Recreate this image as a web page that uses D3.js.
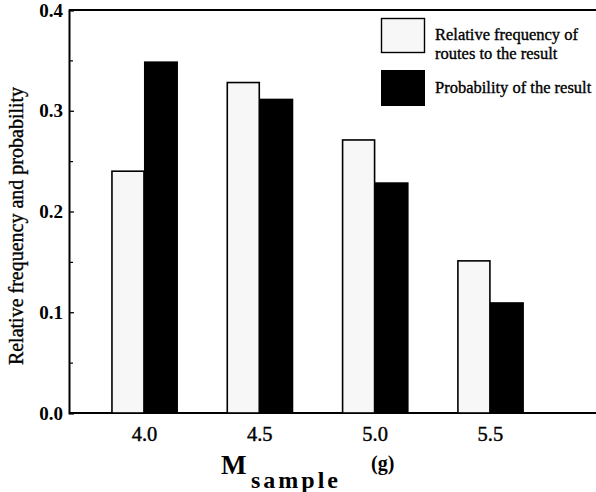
<!DOCTYPE html>
<html>
<head>
<meta charset="utf-8">
<script src="https://cdn.jsdelivr.net/npm/d3@7"></script>
<style>
  html, body { margin: 0; padding: 0; background: #fff; }
  svg { display: block; }
  text { font-family: "Liberation Serif", "Times New Roman", serif; fill: #000; }
</style>
</head>
<body>
<svg id="chart" width="596" height="492"></svg>
<script>
// Sample masses (g) and the two compared quantities
const masses = [4.0, 4.5, 5.0, 5.5];
const relFreq = [0.240, 0.328, 0.271, 0.151];
const probability = [0.349, 0.312, 0.229, 0.110];
const yMajorTicks = [0.0, 0.1, 0.2, 0.3, 0.4];
const yMinorTicks = [0.05, 0.15, 0.25, 0.35];
const seriesNames = ["Relative frequency of\nroutes to the result", "Probability of the result"];

const svg = d3.select("#chart");
const plotLeft = 69, plotRight = 596, plotTop = 10, plotBottom = 413;

const x = d3.scaleLinear().domain([3.675, 5.96]).range([plotLeft, plotRight]);
const y = d3.scaleLinear().domain([0, 0.4]).range([plotBottom, plotTop]);

const barW = 32;

// frame: top border and baseline
svg.append("line").attr("x1", plotLeft).attr("x2", plotRight).attr("y1", plotTop).attr("y2", plotTop)
  .attr("stroke", "#000").attr("stroke-width", 2);
svg.append("line").attr("x1", plotLeft).attr("x2", plotRight).attr("y1", plotBottom).attr("y2", plotBottom)
  .attr("stroke", "#000").attr("stroke-width", 2.2);

// y axis with inward ticks
const yAxis = d3.axisRight(y).tickValues(yMajorTicks).tickSize(5).tickFormat("");
const gy = svg.append("g").attr("transform", `translate(${plotLeft},0)`).call(yAxis);
gy.select(".domain").attr("stroke-width", 2);
gy.selectAll(".tick line").attr("stroke-width", 1.3);
const yMinor = d3.axisRight(y).tickValues(yMinorTicks).tickSize(4).tickFormat("");
const gyMinor = svg.append("g").attr("transform", `translate(${plotLeft},0)`).call(yMinor);
gyMinor.select(".domain").remove();
gyMinor.selectAll(".tick line").attr("stroke-width", 1.2);

// y tick labels
svg.append("g").selectAll("text").data(yMajorTicks).join("text")
  .attr("x", plotLeft - 6).attr("y", d => y(d)).attr("dy", "0.35em")
  .attr("text-anchor", "end")
  .attr("font-size", 19).attr("font-weight", "bold")
  .text(d => d.toFixed(1));

// x tick labels
const gx = svg.append("g").attr("transform", `translate(0,${plotBottom})`)
  .call(d3.axisBottom(x).tickValues(masses).tickSize(0).tickPadding(13).tickFormat(d3.format(".1f")));
gx.select(".domain").remove();
gx.selectAll(".tick text")
  .style("font-family", "'Liberation Serif', serif").attr("font-size", 20.5)
  .attr("stroke", "#000").attr("stroke-width", 0.4);

// bars: light = relative frequency, dark = probability
svg.append("g").selectAll("rect").data(masses).join("rect")
  .attr("x", d => x(d) - barW).attr("width", barW)
  .attr("y", (d, i) => y(relFreq[i])).attr("height", (d, i) => y(0) - y(relFreq[i]))
  .attr("fill", "#f7f7f7").attr("stroke", "#000").attr("stroke-width", 1.6);
svg.append("g").selectAll("rect").data(masses).join("rect")
  .attr("x", d => x(d)).attr("width", barW + 2)
  .attr("y", (d, i) => y(probability[i])).attr("height", (d, i) => y(0) - y(probability[i]))
  .attr("fill", "#000");

// legend
const lg = svg.append("g");
lg.append("rect").attr("x", 381.5).attr("y", 18.5).attr("width", 43).attr("height", 34)
  .attr("fill", "#f7f7f7").attr("stroke", "#000").attr("stroke-width", 1.4);
lg.append("rect").attr("x", 381).attr("y", 70).attr("width", 44).attr("height", 36)
  .attr("fill", "#000");
const lines0 = seriesNames[0].split("\n");
lg.selectAll("text.l0").data(lines0).join("text").attr("class", "l0")
  .attr("x", 435).attr("y", (d, i) => 40 + i * 19)
  .attr("font-size", 16.5).attr("stroke", "#000").attr("stroke-width", 0.35)
  .text(d => d);
lg.append("text").attr("x", 435).attr("y", 93)
  .attr("font-size", 16.5).attr("stroke", "#000").attr("stroke-width", 0.35)
  .text(seriesNames[1]);

// y axis title
svg.append("text")
  .attr("transform", "translate(23,226) rotate(-90)")
  .attr("text-anchor", "middle").attr("font-size", 20)
  .attr("stroke", "#000").attr("stroke-width", 0.35)
  .text("Relative frequency and probability");

// x axis title: M_sample (g)
const xt = svg.append("text").attr("font-weight", "bold");
xt.append("tspan").attr("x", 221).attr("y", 474).attr("font-size", 27).text("M");
xt.append("tspan").attr("x", 251).attr("y", 488).attr("font-size", 24).attr("letter-spacing", 3).text("sample");
svg.append("text").attr("x", 371).attr("y", 470).attr("font-size", 20).attr("font-weight", "bold").text("(g)");
</script>
</body>
</html>
